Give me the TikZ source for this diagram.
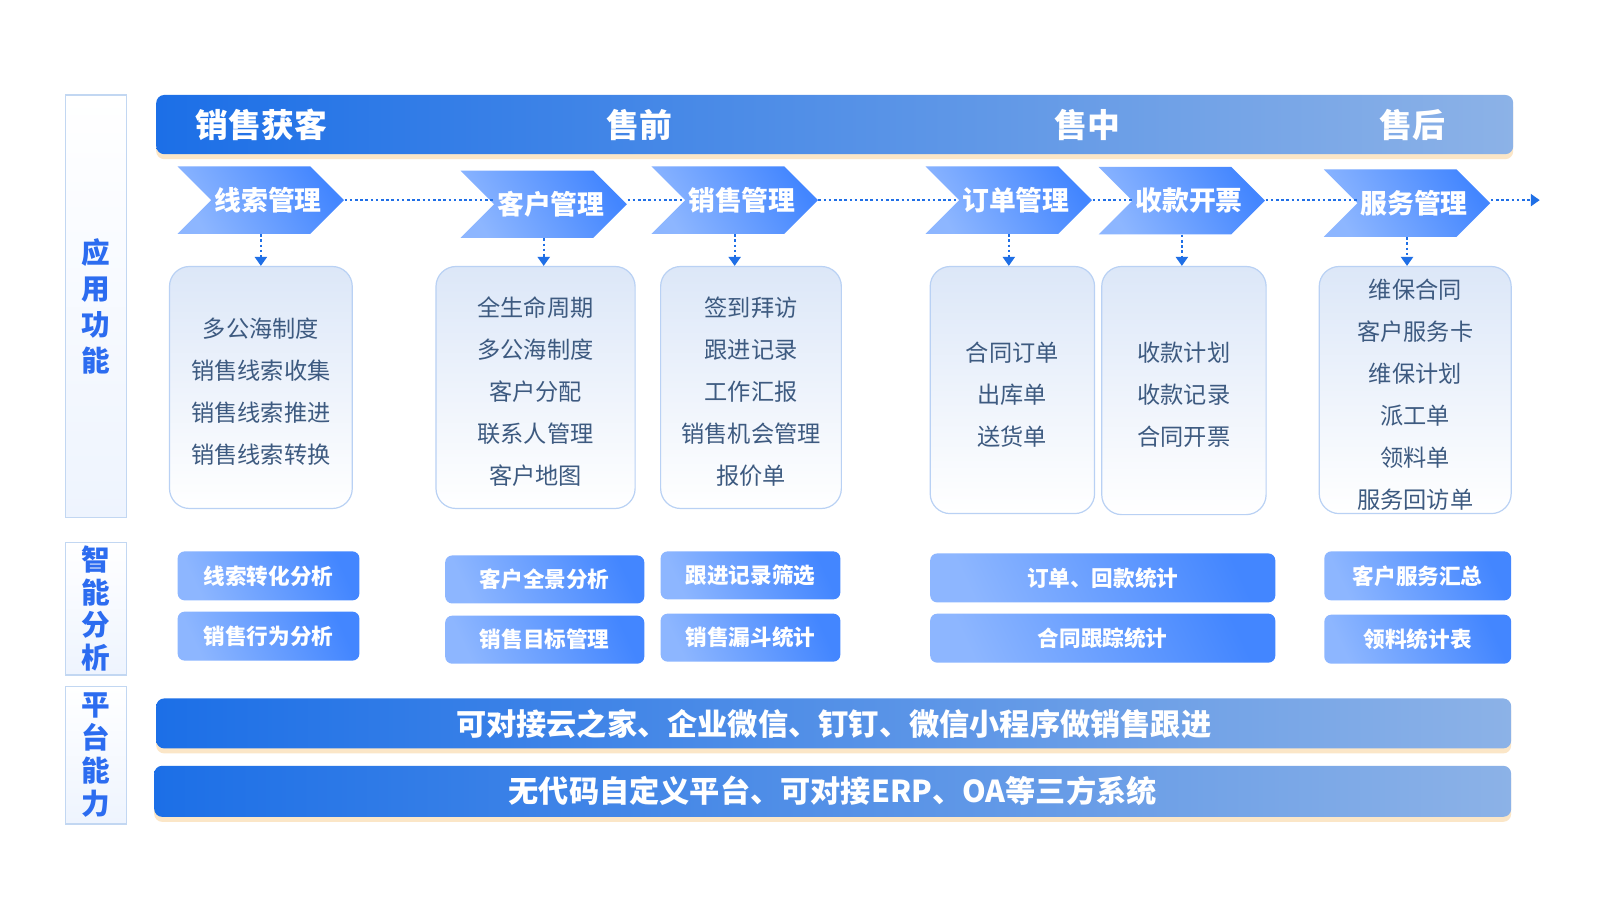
\documentclass[tikz,border=0pt]{standalone}
\usepackage{fontspec}
\setmainfont{Noto Sans CJK SC}
\usetikzlibrary{shapes.symbols,arrows.meta,shadows}

\definecolor{headL}{HTML}{1C6FE7}
\definecolor{headR}{HTML}{8CB2E7}
\definecolor{chevL}{HTML}{8DB6FF}
\definecolor{chevR}{HTML}{4386FF}
\definecolor{flowblue}{HTML}{1F6FE6}
\definecolor{boxtop}{HTML}{DCE7F8}
\definecolor{boxline}{HTML}{B9D1F4}
\definecolor{itemtext}{HTML}{3D5A80}
\definecolor{sideblue}{HTML}{2C6CF0}
\definecolor{sideline}{HTML}{C2D7F2}
\definecolor{sidebot}{HTML}{EEF4FE}
\definecolor{glow}{HTML}{FBE0BA}

\def\px{0.5105pt}
\newcommand\headfont{\fontsize{16.4pt}{18pt}\selectfont\bfseries}
\newcommand\chevfont{\fontsize{13.4pt}{15pt}\selectfont\bfseries}
\newcommand\itemfont{\fontsize{11.6pt}{21pt}\selectfont}
\newcommand\anafont{\fontsize{10.8pt}{12pt}\selectfont\bfseries}
\newcommand\barfont{\fontsize{15.1pt}{17pt}\selectfont\bfseries}
\newcommand\sidefont{\fontsize{14.3pt}{16.4pt}\selectfont\bfseries}

\tikzset{
    bar/.style={rounded corners=4pt, left color=headL, right color=headR,
        text=white, font=\barfont, inner sep=0pt,
        drop shadow={shadow xshift=0pt, shadow yshift=-2.5pt, fill=glow, opacity=.8}},
    headtext/.style={text=white, font=\headfont, inner sep=0pt},
    sidebox/.style={draw=sideline, line width=0.6pt, top color=white, bottom color=sidebot,
        text=sideblue, font=\sidefont, align=center, inner sep=0pt, minimum width=60*\px},
    chev/.style={signal, signal to=east, signal from=west, signal pointer angle=90,
        minimum width=163*\px, minimum height=66*\px, inner sep=0pt,
        left color=chevL, right color=chevR, shading angle=120},
    chevtext/.style={text=white, font=\chevfont, inner sep=0pt, xshift=7*\px},
    funcbox/.style={draw=boxline, line width=0.6pt, rounded corners=10pt,
        top color=boxtop, bottom color=white, inner sep=0pt},
    itemtext/.style={text=itemtext, font=\itemfont, align=center, inner sep=0pt, yshift=-4.5*\px},
    anabox/.style={rounded corners=3.5pt, left color=chevL, right color=chevR,
        shading angle=115, text=white, font=\anafont, inner sep=0pt},
    flowline/.style={flowblue, line width=1.1pt, dash pattern=on 1.3pt off 1.3pt},
    flowtip/.style={-{Triangle[width=6pt,length=4.5pt]}}
}

\begin{document}
\begin{tikzpicture}[x=\px, y=-\px]
    \useasboundingbox[fill=white] (0,0) rectangle (1567,881.5);

    % left column
    \node[sidebox, minimum height=414*\px] (app) at (94,300) {应\\[1.6pt]用\\[1.6pt]功\\[1.6pt]能};
    \node[sidebox, minimum height=130*\px] (ana) at (94,596) {智\\能\\分\\析};
    \node[sidebox, minimum height=135*\px] (plat) at (94,739.5) {平\\台\\能\\力};

    % stages
    \node[bar, minimum width=1329*\px, minimum height=58*\px] (head) at (817.5,122) {};
    \node[headtext] (hk) at (256,122) {销售获客};
    \node[headtext] (sq) at (626,122) {售前};
    \node[headtext] (sz) at (1065,122) {售中};
    \node[headtext] (sh) at (1383,122) {售后};

    % process chevrons
    \node[chev, label={[chevtext]center:线索管理}] (xs) at (255.5,196) {};
    \node[chev, label={[chevtext]center:客户管理}] (kh) at (532.5,200) {};
    \node[chev, label={[chevtext]center:销售管理}] (xg) at (719.5,196) {};
    \node[chev, label={[chevtext]center:订单管理}] (dd) at (988,196) {};
    \node[chev, label={[chevtext]center:收款开票}] (sk) at (1157.5,196.5) {};
    \node[chev, label={[chevtext]center:服务管理}] (fw) at (1378,199) {};
    \coordinate (flowend) at (1508,196);

    \draw[flowline] (xs.east) -- (xs.east -| kh.west);
    \draw[flowline] (kh.east |- xs.east) -- (xs.east -| xg.west);
    \draw[flowline] (xg.east) -- (xg.east -| dd.west);
    \draw[flowline] (dd.east) -- (dd.east -| sk.west);
    \draw[flowline] (sk.east |- xs.east) -- (xs.east -| fw.west);
    \draw[flowline, flowtip] (fw.east |- xs.east) -- (flowend);

    % functions
    \node[funcbox, minimum width=179*\px, minimum height=237*\px,
        label={[itemtext]center:{多公海制度\\销售线索收集\\销售线索推进\\销售线索转换}}] (xsbox) at (255.5,379.5) {};
    \node[funcbox, minimum width=195*\px, minimum height=237*\px,
        label={[itemtext]center:{全生命周期\\多公海制度\\客户分配\\联系人管理\\客户地图}}] (khbox) at (524.5,379.5) {};
    \node[funcbox, minimum width=177*\px, minimum height=237*\px,
        label={[itemtext]center:{签到拜访\\跟进记录\\工作汇报\\销售机会管理\\报价单}}] (xgbox) at (735.5,379.5) {};
    \node[funcbox, minimum width=161*\px, minimum height=242*\px,
        label={[itemtext]center:{合同订单\\出库单\\送货单}}] (ddbox) at (991.5,382) {};
    \node[funcbox, minimum width=161*\px, minimum height=243*\px,
        label={[itemtext]center:{收款计划\\收款记录\\合同开票}}] (skbox) at (1159.5,382.5) {};
    \node[funcbox, minimum width=188*\px, minimum height=242*\px,
        label={[itemtext]center:{维保合同\\客户服务卡\\维保计划\\派工单\\领料单\\服务回访单}}] (fwbox) at (1386,382) {};

    \draw[flowline, flowtip] (xs.south) -- (xs.south |- xsbox.north);
    \draw[flowline, flowtip] (kh.south) -- (kh.south |- khbox.north);
    \draw[flowline, flowtip] (xg.south) -- (xg.south |- xgbox.north);
    \draw[flowline, flowtip] (dd.south) -- (dd.south |- ddbox.north);
    \draw[flowline, flowtip] (sk.south) -- (sk.south |- skbox.north);
    \draw[flowline, flowtip] (fw.south) -- (fw.south |- fwbox.north);

    % analysis
    \node[anabox, minimum width=178*\px, minimum height=48*\px] (ana1) at (263,564) {线索转化分析};
    \node[anabox, minimum width=178*\px, minimum height=48*\px] (ana2) at (263,623) {销售行为分析};
    \node[anabox, minimum width=195*\px, minimum height=47*\px] (ana3) at (533.5,567.5) {客户全景分析};
    \node[anabox, minimum width=195*\px, minimum height=47*\px] (ana4) at (533.5,626.5) {销售目标管理};
    \node[anabox, minimum width=176*\px, minimum height=47*\px] (ana5) at (735,563.5) {跟进记录筛选};
    \node[anabox, minimum width=176*\px, minimum height=47*\px] (ana6) at (735,624.5) {销售漏斗统计};
    \node[anabox, minimum width=338*\px, minimum height=48*\px] (ana7) at (1080,566) {订单、回款统计};
    \node[anabox, minimum width=338*\px, minimum height=48*\px] (ana8) at (1080,625) {合同跟踪统计};
    \node[anabox, minimum width=183*\px, minimum height=48*\px] (ana9) at (1388.5,564) {客户服务汇总};
    \node[anabox, minimum width=183*\px, minimum height=48*\px] (ana10) at (1388.5,626) {领料统计表};

    % platform
    \node[bar, minimum width=1327*\px, minimum height=49*\px] (bar1) at (816.5,708.5)
        {可对接云之家、企业微信、钉钉、微信小程序做销售跟进};
    \node[bar, minimum width=1329*\px, minimum height=50*\px] (bar2) at (815.5,775)
        {无代码自定义平台、可对接ERP、OA等三方系统};
\end{tikzpicture}
\end{document}
